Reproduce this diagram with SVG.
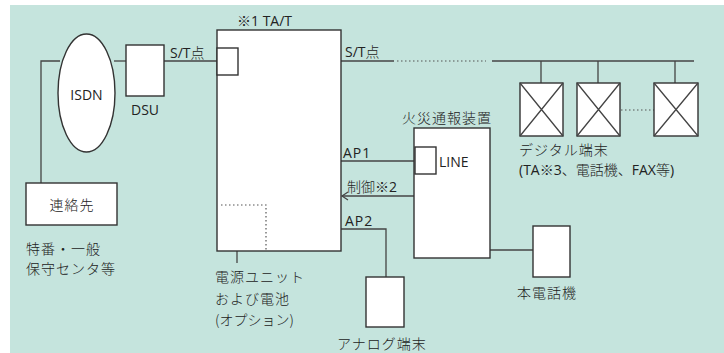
<svg xmlns="http://www.w3.org/2000/svg" width="724" height="353" viewBox="0 0 724 353">
<defs>
<style>
.ln{stroke:#444;stroke-width:1.3;fill:none}
.bx{stroke:#333;stroke-width:1.4;fill:#fff}
.dot{stroke:#555;stroke-width:1.2;fill:none;stroke-dasharray:1.5 2.5}
text{fill:#222;font-size:14px}
.en{font-family:"Open Sans","DejaVu Sans","Noto Sans CJK JP",sans-serif;font-weight:400}
.jp{font-family:"Noto Sans CJK JP","Noto Sans",sans-serif;font-weight:300}
.ls{letter-spacing:1px}
</style>
<marker id="arr" markerWidth="10" markerHeight="10" refX="7" refY="5" orient="auto" markerUnits="userSpaceOnUse">
<path d="M1,1 L7,5 L1,9" fill="none" stroke="#444" stroke-width="1.2"/>
</marker>
</defs>
<rect x="0" y="0" width="724" height="353" fill="#fff"/>
<rect x="10" y="5" width="714" height="348" fill="#c5e4dd"/>

<g id="connectors">
<path class="ln" d="M41,183 V61 H60"/>
<path class="ln" d="M114,61 H126"/>
<path class="ln" d="M164,61 H217"/>
<path class="ln" d="M341,61 H394"/>
<path class="dot" d="M397,61 H486"/>
<path class="ln" d="M492,61 H694"/>
<path class="ln" d="M541,61 V83 M598,61 V83 M675,61 V83"/>
<path class="dot" d="M621,110 H654"/>
<path class="ln" d="M341,161 H414"/>
<path class="ln" d="M414,196 H342" marker-end="url(#arr)"/>
<path class="ln" d="M341,229 H386 V277"/>
<path class="ln" d="M490,250 H533"/>
<path class="ln" d="M237,235 V263"/>
</g>

<g id="isdn">
<ellipse cx="86.5" cy="93" rx="28.5" ry="59" class="bx"/>
<text x="86.5" y="100" text-anchor="middle" font-size="17" class="en">ISDN</text>
</g>

<g id="dsu">
<rect x="126" y="45" width="38" height="51" class="bx"/>
<text x="145" y="115" text-anchor="middle" font-size="15" class="en">DSU</text>
<text x="170" y="58" font-size="15" class="en">S/T<tspan class="jp" font-size="14">点</tspan></text>
</g>

<g id="renraku">
<rect x="26" y="183" width="91" height="42" class="bx"/>
<text x="72" y="210" text-anchor="middle" font-size="16" class="jp ls">連絡先</text>
<text x="26" y="254" font-size="14.5" class="jp ls">特番・一般</text>
<text x="26" y="274" font-size="14.5" class="jp ls">保守センタ等</text>
</g>

<g id="tat">
<rect x="217" y="30" width="124" height="221" class="bx"/>
<rect x="217" y="48" width="21" height="27" class="bx"/>
<path class="dot" d="M221,205 H266 V251"/>
<text x="237" y="26" font-size="16" class="en"><tspan class="jp">※</tspan>1  TA/T</text>
<text x="345" y="57" font-size="15" class="en">S/T<tspan class="jp" font-size="14">点</tspan></text>
<text x="343" y="158" font-size="16" class="en ls">AP1</text>
<text x="347" y="192" font-size="16" class="jp">制御※<tspan class="en">2</tspan></text>
<text x="345" y="226" font-size="16" class="en ls">AP2</text>
<text x="215" y="282" font-size="16" class="jp ls">電源ユニット</text>
<text x="215" y="304" font-size="16" class="jp ls">および電池</text>
<text x="215" y="325" font-size="13" class="jp">(オプション)</text>
</g>

<g id="digital">
<rect x="520" y="83" width="43" height="53" class="bx"/>
<path class="ln" d="M520,83 L563,136 M563,83 L520,136"/>
<rect x="577" y="83" width="43" height="53" class="bx"/>
<path class="ln" d="M577,83 L620,136 M620,83 L577,136"/>
<rect x="654" y="83" width="44" height="53" class="bx"/>
<path class="ln" d="M654,83 L698,136 M698,83 L654,136"/>
<text x="519" y="155" font-size="15.5" class="jp ls">デジタル端末</text>
<text x="519" y="175" font-size="13.5" class="en">(TA<tspan class="jp">※</tspan>3<tspan class="jp">、電話機、</tspan>FAX<tspan class="jp">等</tspan>)</text>
</g>

<g id="fire">
<rect x="414" y="128" width="76" height="130" class="bx"/>
<rect x="415" y="147" width="21" height="27" class="bx"/>
<text x="439" y="167" font-size="16" class="en">LINE</text>
<text x="402" y="123" font-size="16" class="jp ls">火災通報装置</text>
</g>

<g id="analog">
<rect x="366" y="277" width="38" height="50" class="bx"/>
<text x="337" y="349" font-size="16" class="jp ls">アナログ端末</text>
</g>

<g id="phone">
<rect x="533" y="226" width="37" height="51" class="bx"/>
<text x="517" y="298" font-size="16" class="jp ls">本電話機</text>
</g>
</svg>
